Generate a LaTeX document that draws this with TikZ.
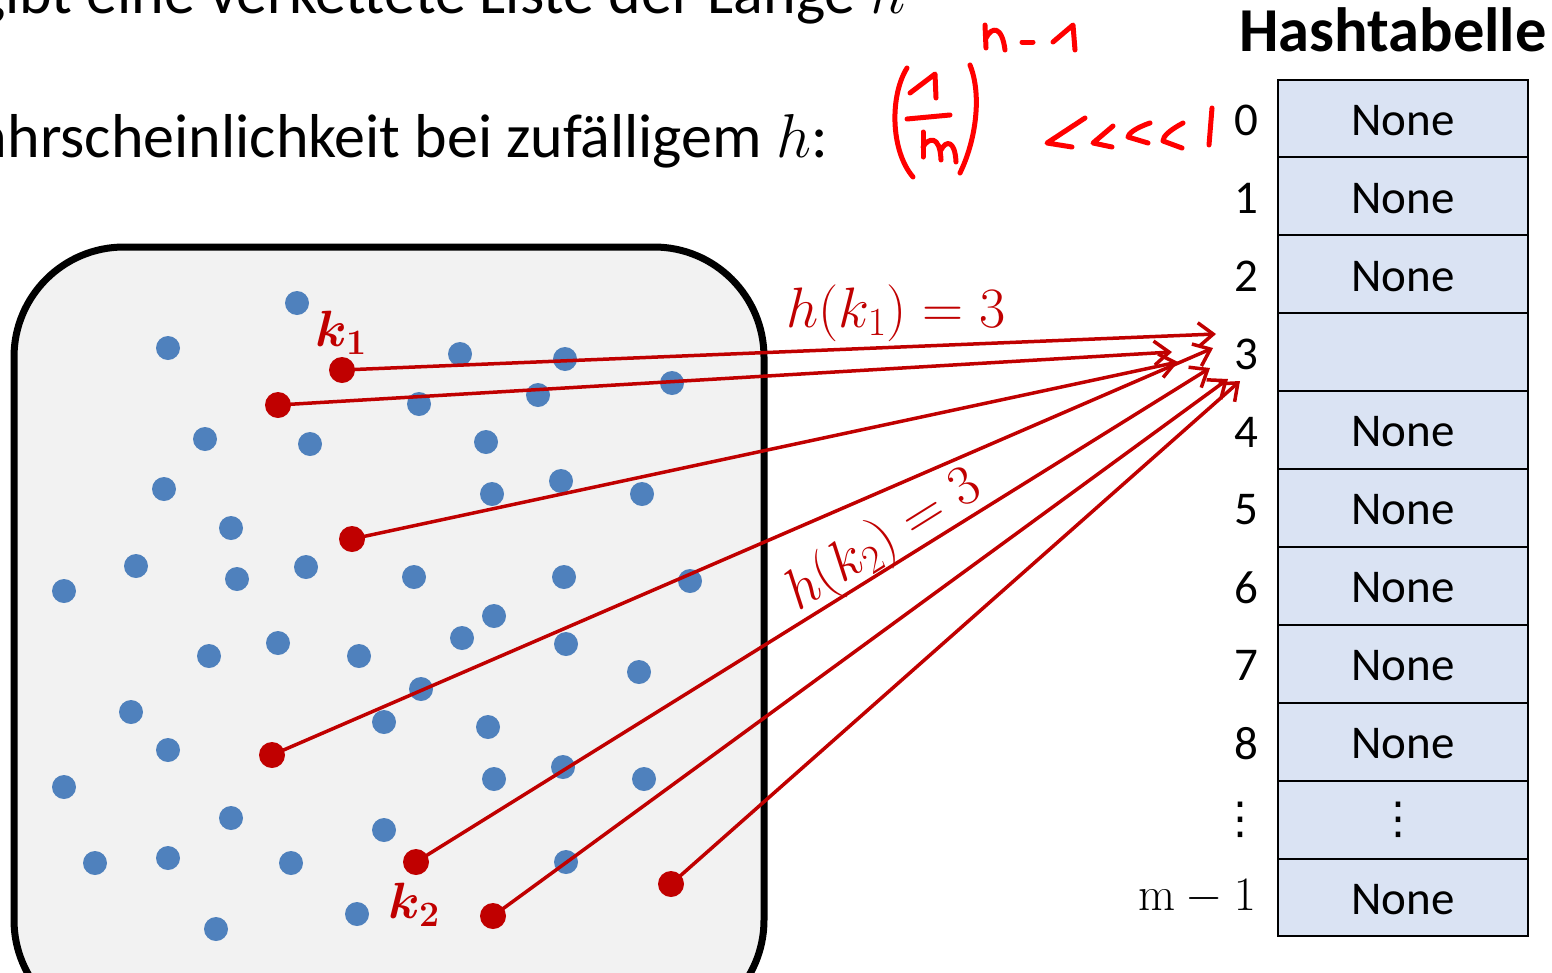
\RequirePackage{fix-cm}
\documentclass[tikz,border=0pt]{standalone}
\usepackage{amsmath}
\usepackage[no-math]{fontspec}
\setmainfont{Carlito}
\newfontfamily\dotsfont{DejaVu Sans}
\usetikzlibrary{arrows.meta}
\definecolor{dotblue}{RGB}{79,129,189}
\definecolor{keyred}{RGB}{192,0,0}
\definecolor{inkred}{RGB}{255,0,0}
\definecolor{cellblue}{RGB}{218,227,243}
\definecolor{boxgray}{RGB}{242,242,242}
\begin{document}
\begin{tikzpicture}[x=1pt,y=-1pt,
  bdot/.style={circle,fill=dotblue,inner sep=0pt,minimum size=24pt},
  rdot/.style={circle,fill=keyred,inner sep=0pt,minimum size=26pt},
  hasharrow/.style={draw=keyred,line width=3.5pt,-{Straight Barb[length=15pt,width=24pt]}},
  ink/.style={draw=inkred,line width=5pt,line cap=round,line join=round},
  cell/.style={draw=black,line width=2pt,fill=cellblue},
  bigtext/.style={font=\fontsize{62}{72}\selectfont,inner sep=0pt},
  celltext/.style={font=\fontsize{47}{56}\selectfont,inner sep=0pt},
  vdotstext/.style={font=\fontsize{44}{50}\dotsfont,inner sep=0pt},
  keylabel/.style={text=keyred,font=\fontsize{51}{60}\selectfont\boldmath,inner sep=0pt},
  hlabel/.style={text=keyred,font=\fontsize{57}{66}\selectfont,inner sep=0pt}]
\useasboundingbox (0,0) rectangle (1552,972);
\clip (0,0) rectangle (1552,972);

% top text lines
\node[bigtext,anchor=base east] (line1) at (906,13) {gibt eine verkettete Liste der Länge $n$};
\node[bigtext,anchor=base east] (line2) at (828,157) {Wahrscheinlichkeit bei zufälligem $h$:};

% universe box
\draw[line width=7pt,fill=boxgray,rounded corners=110pt] (14,247) rectangle (764,1030);

% hash table
\node[font=\fontsize{62.5}{70}\selectfont\bfseries,anchor=base,inner sep=0pt] (title) at (1393,51) {Hashtabelle};
\foreach \i/\t in {0/None,1/None,2/None,3/{},4/None,5/None,6/None,7/None,8/None,10/None}{
  \pgfmathsetmacro{\ytop}{79.5+77.9*\i}
  \pgfmathsetmacro{\ybot}{79.5+77.9*(\i+1)}
  \draw[cell] (1278,\ytop) rectangle (1528,\ybot);
  \node[celltext] (c\i) at (1403,{(\ytop+\ybot)/2+2}) {\t};
}
\draw[cell] (1278,{79.5+77.9*9}) rectangle (1528,{79.5+77.9*10});
\node[vdotstext] (c9) at (1398,{79.5+77.9*9.5}) {⋮};
\foreach \i in {0,...,8}{
  \node[celltext] (idx\i) at (1246,{79.5+77.9*(\i+0.5)+2}) {\i};
}
\node[vdotstext] (idx9) at (1240,{79.5+77.9*9.5}) {⋮};
\node[font=\fontsize{48}{56}\selectfont,anchor=east,inner sep=0pt] (idx10) at (1256,{79.5+77.9*10.5}) {$\mathrm{m}-1$};

% blue dots
\foreach \x/\y [count=\n] in {297/303,168/348,460/354,565/359,672/383,419/404,538/395,205/439,310/444,486/442,
  164/489,492/494,561/481,642/494,231/528,136/566,237/579,306/567,414/577,564/577,690/581,64/591,
  494/616,462/638,209/656,278/643,359/656,566/644,639/672,421/689,131/712,384/722,488/727,168/750,
  494/779,563/767,644/779,64/787,231/818,384/830,95/863,168/858,291/863,566/862,357/914,216/929}{
  \node[bdot] (b\n) at (\x,\y) {};
}

% red keys
\node[rdot] (r1) at (342,370) {};
\node[rdot] (r2) at (278,405) {};
\node[rdot] (r3) at (352,539) {};
\node[rdot] (r4) at (272,755) {};
\node[rdot] (r5) at (416,862) {};
\node[rdot] (r6) at (493,916) {};
\node[rdot] (r7) at (671,884) {};

% arrow targets
\coordinate (t1) at (1216,334);
\coordinate (t2) at (1172,352);
\coordinate (t3) at (1178,362);
\coordinate (t4) at (1213,348);
\coordinate (t5) at (1210,368);
\coordinate (t6) at (1228,379);
\coordinate (t7) at (1240,381);
\foreach \k in {1,...,7}{
  \draw[hasharrow] (r\k.center) -- (t\k);
}

% labels
\node[keylabel] (k1) at (341,333) {$k_1$};
\node[keylabel] (k2) at (414,905) {$k_2$};
\node[hlabel] (h1) at (896,313) {$h(k_1)=3$};
\node[hlabel,rotate=32] (h2) at (884,541) {$h(k_2)=3$};

% handwritten annotation
\draw[ink] (907,68) .. controls (890,95) and (890,150) .. (913,177);
\draw[ink] (910,93) -- (935,74) -- (936,98);
\draw[ink] (907,119) -- (950,115);
\draw[ink] (923,132) -- (923,157);
\draw[ink] (923,147) .. controls (928,138) and (940,134) .. (941,160);
\draw[ink] (941,150) .. controls (946,140) and (955,140) .. (956,162);
\draw[ink] (970,65) .. controls (982,95) and (976,140) .. (960,173);
\draw[ink] (985,25) -- (986,48);
\draw[ink] (986,38) .. controls (992,26) and (1002,26) .. (1005,50);
\draw[ink] (1022,42) -- (1033,42);
\draw[ink] (1053,42) -- (1073,25) -- (1075,50);
\draw[ink] (1085,118) -- (1047,143) -- (1072,147);
\draw[ink] (1113,126) -- (1093,143) -- (1112,147);
\draw[ink] (1150,123) .. controls (1135,128) and (1128,134) .. (1128,137) -- (1148,143);
\draw[ink] (1183,123) .. controls (1170,130) and (1163,136) .. (1163,141) -- (1182,148);
\draw[ink] (1212,108) -- (1209,145);
\end{tikzpicture}
\end{document}
